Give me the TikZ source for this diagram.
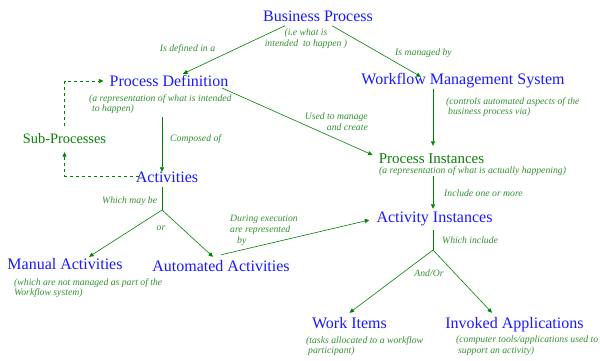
\documentclass[tikz,border=0pt]{standalone}
\usepackage{fontspec}
\setmainfont{Liberation Serif}
\usetikzlibrary{arrows.meta}
\definecolor{tblue}{RGB}{25,25,255}
\definecolor{tgreen}{RGB}{10,128,10}
\definecolor{ngreen}{RGB}{50,145,50}
\definecolor{lgreen}{RGB}{0,128,0}
\begin{document}
\begin{tikzpicture}[x=1pt,y=-1pt,
 main/.style={inner sep=1pt, anchor=base, text height=11pt, text depth=3.5pt, font=\fontsize{16}{18}\selectfont},
 bl/.style={main, text=tblue},
 gr/.style={main, text=tgreen},
 note/.style={inner sep=0pt, text=ngreen, font=\fontsize{9.7}{10.8}\selectfont\itshape},
 arr/.style={draw=lgreen, line width=0.6pt, -{Triangle[length=4.5pt,width=4pt]}},
 ln/.style={draw=lgreen, line width=0.6pt},
]
\useasboundingbox (0,0) rectangle (600,360);
% main labels
\node[bl] (bp) at (318,21) {Business Process};
\node[bl] (pd) at (169,86) {Process Definition};
\node[bl] (wms) at (463,84) {Workflow Management System};
\node[gr, font=\fontsize{14.4}{17}\selectfont] (subp) at (64.5,143) {Sub-Processes};
\node[bl] (act) at (167,182) {Activities};
\node[gr, font=\fontsize{15}{17}\selectfont] (pi) at (431.5,163) {Process Instances};
\node[bl] (ai) at (434.5,222) {Activity Instances};
\node[bl] (ma) at (65,269) {Manual Activities};
\node[bl] (aa) at (221,271) {Automated Activities};
\node[bl] (wi) at (349.5,328) {Work Items};
\node[bl] (ia) at (514.5,328) {Invoked Applications};
% notes
\node[note, anchor=north, align=center] (bpnote) at (306,29) {(i.e what is\\intended\ \ to happen )};
\node[note, anchor=north west, align=left] (pdnote) at (89,94) {(a representation of what is intended\\\hspace*{3pt}to happen)};
\node[note, anchor=north west, align=left] (wmsnote) at (446,97) {(controls automated aspects of the\\\hspace*{2pt}business process via)};
\node[note, anchor=north west] (pinote) at (379,166) {(a representation of what is actually happening)};
\node[note, anchor=north west, align=left] (manote) at (14,278) {(which are not managed as part of the\\Workflow system)};
\node[note, anchor=north west, align=left] (winote) at (306,336) {(tasks allocated to a workflow\\\hspace*{2pt}participant)};
\node[note, anchor=north west, align=left] (ianote) at (456,336) {(computer tools/applications used to\\\hspace*{2pt}support an activity)};
% edge labels
\node[note, anchor=base] (l1) at (187.5,51) {Is defined in a};
\node[note, anchor=base] (l2) at (423.5,55) {Is managed by};
\node[note, anchor=north east, align=right] (l3) at (368,113) {Used to manage\\and create};
\node[note, anchor=base west] (l4) at (170,141) {Composed of};
\node[note, anchor=base west] (l5) at (102,203) {Which may be};
\node[note, anchor=base] (l6) at (161,230) {or};
\node[note, anchor=north west, align=left] (l7) at (230,215) {During execution\\are represented\\\hspace*{7pt}by};
\node[note, anchor=base west] (l8) at (444,196) {Include one or more};
\node[note, anchor=base west] (l9) at (442,243) {Which include};
\node[note, anchor=base] (l10) at (429,276) {And/Or};
% junctions
\coordinate (j1) at (162,210);
\coordinate (j2) at (433,250);
% connectors
\draw[arr] ([xshift=-33pt]bp.south) -- ([xshift=14pt]pd.north);
\draw[arr] ([xshift=14pt]bp.south) -- ([xshift=-42pt,yshift=-5pt]wms.north);
\draw[arr] ([xshift=53pt,yshift=-2pt]pd.base) -- ([xshift=-5pt,yshift=8pt]pi.base west);
\draw[arr, shorten <=26.5pt] ([xshift=-7pt]pd.south) -- ([xshift=-5pt,yshift=-2pt]act.north);
\draw[ln] ([xshift=-5pt]act.south) -- (j1);
\draw[arr] (j1) -- ([xshift=24pt]ma.north);
\draw[arr] (j1) -- ([xshift=-8pt,yshift=2pt]aa.north);
\draw[arr] ([yshift=4pt]aa.north) -- ([xshift=-6pt,yshift=2pt]ai.base west);
\draw[arr] ([xshift=-30pt]wms.south) -- ([xshift=1.5pt,yshift=5pt]pi.north);
\draw[arr, shorten <=8.5pt] ([xshift=1.5pt]pi.south) -- ([xshift=-1.5pt,yshift=1pt]ai.north);
\draw[ln, shorten <=3.5pt] ([xshift=-1.5pt]ai.south) -- (j2);
\draw[arr] (j2) -- ([yshift=3pt]wi.north);
\draw[arr] (j2) -- ([xshift=-22.5pt,yshift=3pt]ia.north);
\draw[arr, dashed] ([xshift=4pt,yshift=6pt]act.base west) -| ([yshift=-4.5pt]subp.south);
\draw[arr, dashed] ([yshift=5pt]subp.north) |- ([xshift=-5pt,yshift=5pt]pd.base west);
\end{tikzpicture}
\end{document}
